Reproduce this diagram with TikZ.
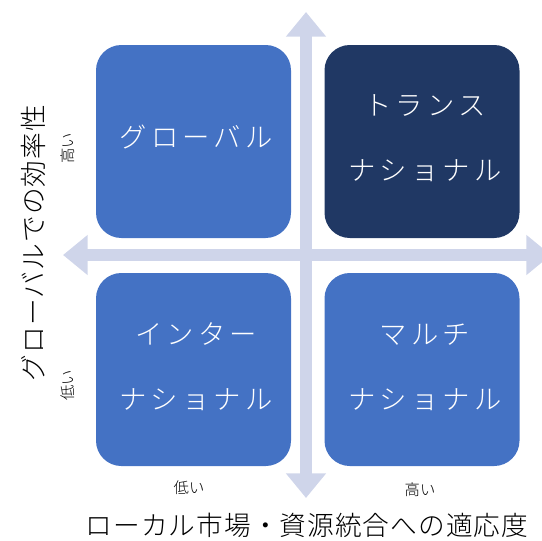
\documentclass[tikz,border=0pt]{standalone}
\usepackage{fontspec}
\setmainfont{Noto Sans CJK JP}[UprightFont=* Light]
\usetikzlibrary{arrows.meta}
\definecolor{boxblue}{HTML}{4472C4}
\definecolor{boxdark}{HTML}{203864}
\definecolor{arrowc}{HTML}{CFD5EA}
\begin{document}
\begin{tikzpicture}[x=0.75pt,y=-0.75pt,
  quad/.style={rounded corners=19pt, minimum width=146.25pt, minimum height=144.75pt, inner sep=0pt},
  qtext/.style={text=white, font=\fontsize{20.5}{49}\selectfont\addfontfeature{LetterSpace=15}, align=center},
  axisarrow/.style={draw=arrowc, line width=8.5pt, -{Triangle[width=29pt,length=18.5pt]}},
  lvl/.style={font=\fontsize{11.5}{13}\selectfont},
  axlabel/.style={font=\fontsize{20}{22}\selectfont\addfontfeature{LetterSpace=4}}]
\useasboundingbox (0,0) rectangle (542,540);
\coordinate (c) at (306,255);
\coordinate (top) at (306,12);
\coordinate (bot) at (306,498);
\coordinate (lft) at (63,255);
\coordinate (rgt) at (551,255);
\draw[axisarrow] (c) -- (top);
\draw[axisarrow] (c) -- (bot);
\draw[axisarrow] (c) -- (lft);
\draw[axisarrow] (c) -- (rgt);
\node[quad, fill=boxblue] (gl) at (193.5,141.5) {};
\node[quad, fill=boxdark] (tn) at (422,141.5) {};
\node[quad, fill=boxblue] (in) at (193.5,369.5) {};
\node[quad, fill=boxblue] (mn) at (422,369.5) {};
\node[qtext] (glt) at (196,137) {グローバル};
\node[qtext] (tnt) at (425,138) {トランス\\ナショナル};
\node[qtext] (int) at (196,367) {インター\\ナショナル};
\node[qtext] (mnt) at (425,367) {マルチ\\ナショナル};
\node[lvl] (xlow) at (189,488) {低い};
\node[lvl] (xhigh) at (420,490) {高い};
\node[axlabel] (xlab) at (307,525) {ローカル市場・資源統合への適応度};
\node[axlabel, rotate=90] (ylab) at (33,243) {グローバルでの効率性};
\node[lvl, rotate=90] (yhigh) at (68,148) {高い};
\node[lvl, rotate=90] (ylow) at (68,385) {低い};
\end{tikzpicture}
\end{document}
